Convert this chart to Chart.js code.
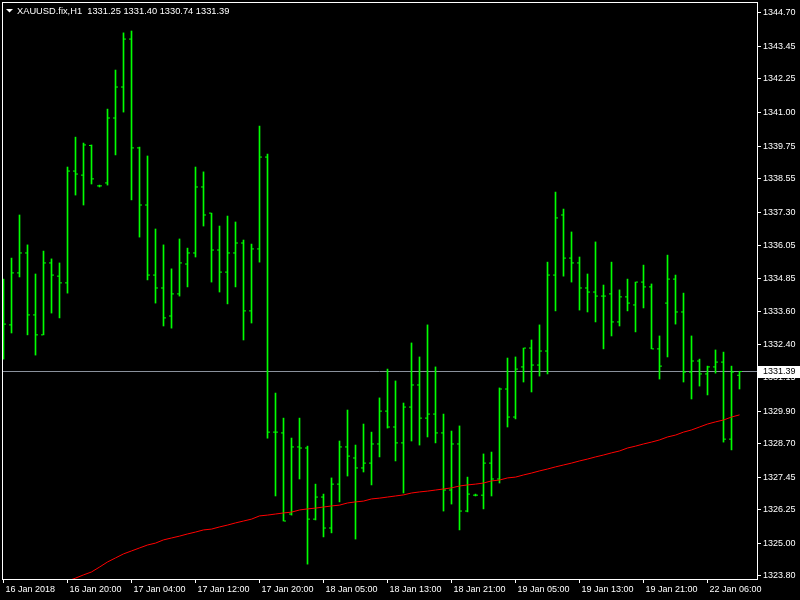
<!DOCTYPE html>
<html>
<head>
<meta charset="utf-8">
<title>XAUUSD.fix,H1</title>
<script src="https://cdn.jsdelivr.net/npm/chart.js@4.4.1/dist/chart.umd.min.js"></script>
<style>
  html, body { margin: 0; padding: 0; background: #000; }
</style>
</head>
<body>
<canvas id="myChart" width="800" height="600"></canvas>
<script>
// symbol header
const symbol = 'XAUUSD.fix';
const period = 'H1';

// hourly bars, oldest first (16 Jan 12:00 .. 22 Jan 06:00)
const opens = [
  1333.08, 1333.12, 1335.05, 1335.79, 1333.49, 1332.75, 1335.42, 1334.93, 1334.68, 1338.83,
  1338.68, 1339.78, 1338.28, 1338.39, 1340.80, 1341.95, 1343.73, 1339.69, 1337.57, 1334.97,
  1334.49, 1333.45, 1334.27, 1335.38, 1335.79, 1338.24, 1337.27, 1335.90, 1335.08, 1335.79,
  1336.16, 1333.64, 1335.94, 1339.35, 1329.14, 1329.11, 1326.10, 1328.59, 1328.55, 1325.91,
  1326.73, 1325.58, 1327.21, 1328.59, 1328.18, 1327.81, 1327.99, 1328.70, 1329.92, 1329.33,
  1328.74, 1330.07, 1330.89, 1329.66, 1329.81, 1329.11, 1326.99, 1328.70, 1326.21, 1326.80,
  1326.80, 1327.99, 1327.40, 1330.74, 1329.70, 1331.56, 1332.26, 1331.63, 1332.15, 1334.97,
  1337.20, 1335.60, 1335.42, 1334.49, 1334.34, 1334.19, 1334.27, 1333.23, 1334.16, 1333.86,
  1334.71, 1334.53, 1332.23, 1333.93, 1334.82, 1333.60, 1331.37, 1331.78, 1331.30, 1331.56,
  1331.74, 1328.88, 1331.25
];
const highs = [
  1334.82, 1335.60, 1337.20, 1336.09, 1335.01, 1335.86, 1335.57, 1335.42, 1338.98, 1340.09,
  1339.87, 1339.80, 1338.31, 1341.13, 1342.58, 1343.96, 1344.03, 1339.72, 1339.39, 1336.68,
  1336.09, 1335.20, 1336.31, 1335.97, 1338.98, 1338.80, 1337.27, 1336.79, 1337.16, 1336.94,
  1336.27, 1336.12, 1340.50, 1339.46, 1330.59, 1329.66, 1328.92, 1329.66, 1328.62, 1327.21,
  1326.84, 1327.44, 1328.81, 1329.96, 1328.66, 1329.44, 1329.14, 1330.41, 1331.48, 1331.04,
  1330.22, 1332.45, 1331.93, 1333.12, 1331.56, 1329.81, 1329.18, 1329.37, 1327.47, 1326.84,
  1328.33, 1328.40, 1330.78, 1331.89, 1331.93, 1332.26, 1332.56, 1333.12, 1335.45, 1338.05,
  1337.42, 1336.57, 1335.64, 1335.01, 1336.20, 1334.60, 1335.45, 1334.42, 1334.82, 1334.71,
  1335.34, 1334.64, 1332.71, 1335.71, 1334.97, 1334.30, 1332.71, 1331.85, 1331.59, 1332.19,
  1332.11, 1331.59, 1331.40
];
const lows = [
  1331.85, 1332.82, 1334.90, 1332.75, 1332.00, 1332.75, 1333.56, 1333.38, 1334.30, 1337.94,
  1337.57, 1338.35, 1338.24, 1338.31, 1339.43, 1341.02, 1337.76, 1336.38, 1334.79, 1333.93,
  1333.08, 1333.00, 1334.19, 1334.53, 1335.64, 1336.79, 1334.71, 1334.34, 1333.90, 1334.53,
  1332.56, 1333.19, 1335.45, 1328.92, 1326.77, 1325.84, 1326.06, 1327.40, 1324.24, 1325.88,
  1325.25, 1325.40, 1326.55, 1327.51, 1325.17, 1327.66, 1327.18, 1328.22, 1329.29, 1328.07,
  1326.88, 1328.81, 1328.66, 1328.96, 1328.74, 1326.21, 1326.47, 1325.51, 1326.18, 1326.77,
  1326.29, 1326.77, 1327.25, 1329.33, 1329.63, 1331.00, 1330.63, 1331.22, 1331.30, 1333.64,
  1334.93, 1334.71, 1333.67, 1333.60, 1333.23, 1332.23, 1332.71, 1333.08, 1333.64, 1332.86,
  1333.75, 1332.23, 1331.11, 1331.93, 1333.15, 1331.00, 1330.37, 1330.85, 1330.52, 1331.33,
  1328.77, 1328.48, 1330.74
];
const closes = [
  1333.15, 1335.05, 1335.79, 1333.49, 1332.75, 1335.42, 1334.97, 1334.68, 1338.83, 1338.72,
  1339.80, 1338.54, 1338.28, 1340.80, 1341.95, 1343.73, 1339.69, 1337.57, 1334.97, 1334.49,
  1333.38, 1334.27, 1335.42, 1335.79, 1338.24, 1337.20, 1335.90, 1335.08, 1335.79, 1336.16,
  1333.64, 1335.94, 1339.35, 1329.14, 1329.14, 1325.84, 1328.59, 1328.55, 1325.91, 1326.73,
  1325.58, 1327.21, 1328.59, 1328.25, 1327.81, 1327.99, 1328.70, 1329.92, 1329.33, 1328.74,
  1330.07, 1330.89, 1329.66, 1329.81, 1329.11, 1326.99, 1328.70, 1326.21, 1326.84, 1326.80,
  1327.99, 1327.40, 1330.74, 1329.70, 1331.48, 1332.26, 1331.63, 1332.15, 1334.97, 1337.09,
  1335.60, 1335.42, 1334.49, 1334.34, 1334.19, 1334.19, 1333.23, 1334.16, 1333.93, 1334.71,
  1334.53, 1332.23, 1331.59, 1334.82, 1333.60, 1331.37, 1331.78, 1331.30, 1331.56, 1331.74,
  1328.88, 1331.37, 1331.39
];
// red moving average
const maValues = [
  1322.65, 1322.80, 1322.91, 1323.02, 1323.13, 1323.24, 1323.39, 1323.50, 1323.61, 1323.72,
  1323.84, 1323.95, 1324.13, 1324.32, 1324.47, 1324.62, 1324.73, 1324.84, 1324.95, 1325.02,
  1325.14, 1325.21, 1325.28, 1325.36, 1325.43, 1325.51, 1325.54, 1325.62, 1325.69, 1325.77,
  1325.84, 1325.91, 1326.03, 1326.06, 1326.10, 1326.14, 1326.17, 1326.25, 1326.29, 1326.32,
  1326.36, 1326.40, 1326.43, 1326.51, 1326.55, 1326.58, 1326.66, 1326.69, 1326.73, 1326.77,
  1326.81, 1326.88, 1326.92, 1326.95, 1326.99, 1327.03, 1327.07, 1327.14, 1327.18, 1327.21,
  1327.25, 1327.33, 1327.36, 1327.44, 1327.47, 1327.55, 1327.62, 1327.70, 1327.77, 1327.85,
  1327.92, 1327.99, 1328.07, 1328.14, 1328.22, 1328.29, 1328.37, 1328.44, 1328.55, 1328.62,
  1328.70, 1328.77, 1328.85, 1328.96, 1329.03, 1329.14, 1329.22, 1329.33, 1329.44, 1329.52,
  1329.59, 1329.70, 1329.78
];

// time axis labels (bar index -> text)
const timeTickIdx = [0, 8, 16, 24, 32, 40, 48, 56, 64, 72, 80, 88];
const timeLabels = [
  '16 Jan 2018', '16 Jan 20:00', '17 Jan 04:00', '17 Jan 12:00', '17 Jan 20:00', '18 Jan 05:00',
  '18 Jan 13:00', '18 Jan 21:00', '19 Jan 05:00', '19 Jan 13:00', '19 Jan 21:00', '22 Jan 06:00'
];
// price axis labels
const priceTicks = [
  1344.70, 1343.45, 1342.25, 1341.00, 1339.75, 1338.55, 1337.30, 1336.05, 1334.85,
  1333.60, 1332.40, 1331.15, 1329.90, 1328.70, 1327.45, 1326.25, 1325.00, 1323.80
];

// visible window
const xMin = -0.1875, xMax = 94.1875;
const yMin = 1323.688, yMax = 1345.106;

const lastIdx = closes.length - 1;
const lastPrice = closes[lastIdx];
const barColor = '#00ff00';
const axisFont = { family: 'Liberation Sans', size: 9 };

// build datasets from the arrays
const rangeData = highs.map((h, i) => ({ x: i, y: [lows[i], h] }));
const openData = opens.map((o, i) => ({ x: i - 0.1875, y: o }));
const closeData = closes.map((c, i) => ({ x: i + 0.1875, y: c }));
const maData = maValues.map((m, i) => ({ x: i, y: m }));
const bidData = [{ x: xMin, y: lastPrice }, { x: xMax, y: lastPrice }];

// black background, white frame, header and bid label
const terminalLook = {
  id: 'terminalLook',
  beforeDraw(chart) {
    const ctx = chart.ctx;
    ctx.save();
    ctx.fillStyle = '#000';
    ctx.fillRect(0, 0, chart.width, chart.height);
    ctx.restore();
  },
  afterDraw(chart) {
    const { ctx, chartArea: a, scales } = chart;
    ctx.save();
    ctx.strokeStyle = '#fff';
    ctx.lineWidth = 1;
    ctx.strokeRect(a.left + 0.5, a.top + 0.5, a.right - a.left, a.bottom - a.top);

    // header
    ctx.fillStyle = '#fff';
    ctx.beginPath();
    ctx.moveTo(6, 9);
    ctx.lineTo(13, 9);
    ctx.lineTo(9.5, 12.5);
    ctx.closePath();
    ctx.fill();
    ctx.font = '9.3px "Liberation Sans"';
    ctx.textBaseline = 'alphabetic';
    ctx.textAlign = 'left';
    const f = v => v.toFixed(2);
    const head = symbol + ',' + period + '  ' + f(opens[lastIdx]) + ' ' + f(highs[lastIdx]) + ' ' +
      f(lows[lastIdx]) + ' ' + f(closes[lastIdx]);
    ctx.fillText(head, 17, 14);

    // bid price label on the axis
    const py = scales.y.getPixelForValue(lastPrice);
    ctx.fillStyle = '#fff';
    ctx.fillRect(a.right + 1, Math.round(py) - 6, chart.width - a.right - 1, 12);
    ctx.fillStyle = '#000';
    ctx.font = '9px "Liberation Sans"';
    ctx.textBaseline = 'middle';
    ctx.fillText(f(lastPrice), a.right + 6, py + 0.5);
    ctx.restore();
  }
};

const ctx = document.getElementById('myChart').getContext('2d');
new Chart(ctx, {
  type: 'line',
  data: {
    datasets: [
      {
        type: 'line', data: maData, order: 0,
        borderColor: '#ff0000', borderWidth: 1, pointRadius: 0, tension: 0, clip: 0
      },
      {
        type: 'bar', data: rangeData, order: 1,
        backgroundColor: barColor, borderWidth: 0, barThickness: 1, grouped: false
      },
      {
        type: 'line', data: openData, order: 1, showLine: false,
        pointStyle: 'line', pointRadius: 1, pointHoverRadius: 1,
        pointBorderColor: barColor, pointBorderWidth: 1
      },
      {
        type: 'line', data: closeData, order: 1, showLine: false,
        pointStyle: 'line', pointRadius: 1, pointHoverRadius: 1,
        pointBorderColor: barColor, pointBorderWidth: 1
      },
      {
        type: 'line', data: bidData, order: 2,
        borderColor: '#8a919c', borderWidth: 1, pointRadius: 0
      }
    ]
  },
  options: {
    responsive: false,
    animation: false,
    events: [],
    layout: { padding: { top: 2, left: 2, right: 0, bottom: 0 } },
    plugins: {
      legend: { display: false },
      tooltip: { enabled: false }
    },
    scales: {
      x: {
        type: 'linear', position: 'bottom', min: xMin, max: xMax, bounds: 'data', offset: false,
        afterBuildTicks: s => { s.ticks = timeTickIdx.map(v => ({ value: v })); },
        afterFit: s => { s.height = 21; s.paddingLeft = 0; s.paddingRight = 0; },
        border: { display: false },
        grid: { offset: false, drawOnChartArea: false, drawTicks: true, tickLength: 4, color: '#fff' },
        ticks: {
          autoSkip: false, maxRotation: 0, minRotation: 0, align: 'start', labelOffset: 2,
          padding: 1, color: '#fff', font: axisFont,
          callback: v => timeLabels[timeTickIdx.indexOf(v)]
        }
      },
      y: {
        type: 'linear', position: 'right', min: yMin, max: yMax, bounds: 'data',
        beginAtZero: false,
        afterBuildTicks: s => { s.ticks = priceTicks.map(v => ({ value: v })); },
        afterFit: s => { s.width = 43; s.paddingTop = 0; s.paddingBottom = 0; },
        border: { display: false },
        grid: { drawOnChartArea: false, drawTicks: true, tickLength: 4, color: '#fff' },
        ticks: {
          padding: 2, color: '#fff', font: axisFont,
          callback: v => v.toFixed(2)
        }
      }
    }
  },
  plugins: [terminalLook]
});
</script>
</body>
</html>
